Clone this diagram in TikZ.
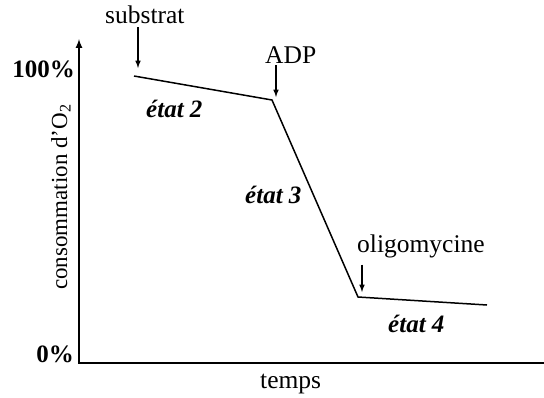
\documentclass[tikz,border=0pt]{standalone}
\usepackage{fontspec}
\setmainfont{Liberation Serif}
\begin{document}
\begin{tikzpicture}[x=1pt,y=-1pt,
    txt/.style={font=\fontsize{25.5}{30}\selectfont,inner sep=0pt,anchor=base west},
    etat/.style={txt,font=\fontsize{25}{30}\selectfont\bfseries\itshape},
    pct/.style={txt,font=\fontsize{25}{30}\selectfont\bfseries,anchor=base east},
    marker/.style={-latex,line width=1.5pt}]
        \useasboundingbox (0,0) rectangle (544,397);
        % axes
        \coordinate (origin) at (79,363);
        \coordinate (ytop) at (79,39);
        \coordinate (xend) at (544,363);
        \draw[latex-,line width=2pt] (ytop) -- (origin) -- (xend);
        \node[pct] (p100) at (75,77) {100\%};
        \node[pct] (p0) at (74,362) {0\%};
        \node[txt] (temps) at (260,388) {temps};
        \node[txt,font=\fontsize{23}{27}\selectfont,rotate=90,anchor=base] (conso) at (67,197) {consommation d'O\textsubscript{2}};
        % courbe
        \coordinate (c1) at (134,76);
        \coordinate (c2) at (272,100);
        \coordinate (c3) at (358,297);
        \coordinate (c4) at (487,305);
        \draw[line width=1.5pt] (c1) -- (c2) -- (c3) -- (c4);
        % ajouts
        \node[txt] (substrat) at (105,23) {substrat};
        \node[txt] (adp) at (265,63) {ADP};
        \node[txt] (oligo) at (357,252) {oligomycine};
        \coordinate (t1) at (138,68);
        \coordinate (t2) at (276,97);
        \coordinate (t3) at (362,292);
        \draw[marker] (substrat.south -| t1) ++(0,4) -- (t1);
        \draw[marker] (adp.south -| t2) ++(0,2) -- (t2);
        \draw[marker] (oligo.south -| t3) ++(0,7) -- (t3);
        % etats
        \node[etat] (e2) at (146,117) {état 2};
        \node[etat] (e3) at (245,203) {état 3};
        \node[etat] (e4) at (388,332) {état 4};
\end{tikzpicture}
\end{document}
